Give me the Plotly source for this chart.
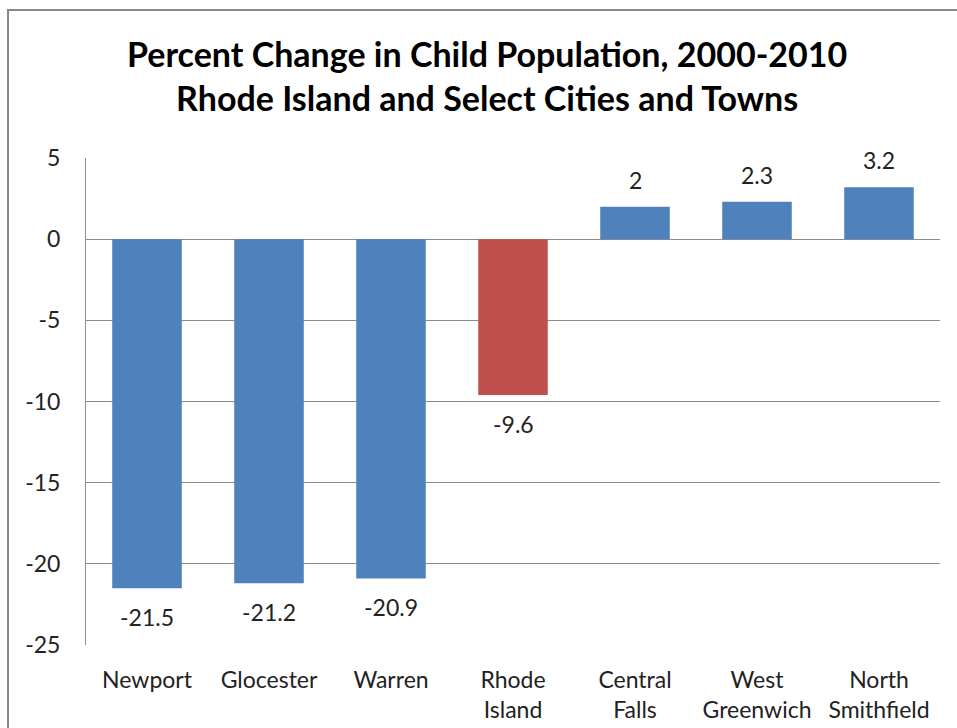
import plotly.graph_objects as go

categories = ["Newport", "Glocester", "Warren", "Rhode<br>Island", "Central<br>Falls", "West<br>Greenwich", "North<br>Smithfield"]
values = [-21.5, -21.2, -20.9, -9.6, 2, 2.3, 3.2]
labels = ["-21.5", "-21.2", "-20.9", "-9.6", "2", "2.3", "3.2"]
colors = ["#4F81BD", "#4F81BD", "#4F81BD", "#C0504D", "#4F81BD", "#4F81BD", "#4F81BD"]
y_ticks = [5, 0, -5, -10, -15, -20, -25]

FONT = "Lato, 'Open Sans', sans-serif"

fig = go.Figure(go.Bar(
    x=categories, y=values,
    marker=dict(color=colors, line=dict(width=0)),
))

for c, v, t in zip(categories, values, labels):
    fig.add_annotation(x=c, y=v, text=t, showarrow=False, xref="x", yref="y",
                       yanchor="middle", yshift=27 if v > 0 else -29,
                       font=dict(family=FONT, size=23, color="#222"))

fig.update_layout(
    width=957, height=728,
    margin=dict(l=86, r=17, t=158, b=83),
    paper_bgcolor="white", plot_bgcolor="white",
    bargap=0.43,
    showlegend=False,
    font=dict(family=FONT, size=23, color="#222"),
    xaxis=dict(showgrid=False, showline=False, ticks="", tickfont=dict(size=23), ticklabelstandoff=19,
               automargin=False),
    yaxis=dict(range=[-25, 5], tickvals=y_ticks, ticktext=[str(v) for v in y_ticks],
               showgrid=True, gridcolor="#8c8c8c", gridwidth=1, zeroline=True, zerolinecolor="#8c8c8c",
               zerolinewidth=1, showline=True, linecolor="#8c8c8c", linewidth=1, ticks="",
               tickfont=dict(size=23), ticklabelstandoff=20, automargin=False),
    shapes=[dict(type="rect", xref="paper", yref="paper", x0=-0.0913, y0=-0.4, x1=1.2, y1=1.304,
                 line=dict(color="#888888", width=2), layer="below")],
)
fig.add_annotation(text="<b>Percent Change in Child Population, 2000-2010<br>Rhode Island and Select Cities and Towns</b>",
                   xref="paper", yref="paper", x=0.47, y=1.17, xanchor="center", yanchor="middle",
                   showarrow=False, font=dict(family=FONT, size=34, color="#000"))

fig.write_html("out.html")
